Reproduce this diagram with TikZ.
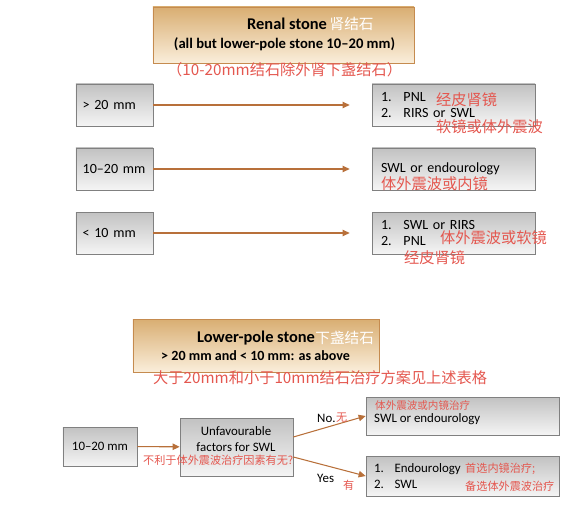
\documentclass[tikz,border=0pt]{standalone}
\usepackage{fontspec}
\setmainfont{Carlito}
\newfontfamily\cjk{Noto Sans CJK SC}
\usetikzlibrary{arrows.meta,positioning}
\definecolor{tanTop}{HTML}{D9AE72}
\definecolor{tanBot}{HTML}{FAEEDB}
\definecolor{tanEdge}{HTML}{C58B4F}
\definecolor{arrowBrown}{HTML}{B8703A}
\definecolor{noteRed}{HTML}{E4574F}
\newcommand{\itm}[2]{\makebox[1.6em][l]{#1}#2}

\begin{document}
\begin{tikzpicture}[x=0.03cm, y=-0.03cm,
  font=\fontsize{12}{14}\selectfont,
  box/.style={draw=black!50, line width=0.6pt, inner sep=0pt},
  gbox/.style={box, top color=black!24, bottom color=black!4},
  tbox/.style={draw=tanEdge, line width=0.6pt, top color=tanTop, bottom color=tanBot},
  sizebox/.style={gbox, minimum height=1.26cm, inner xsep=0.2cm, text width=1.91cm, align=left},
  rbox/.style={gbox, minimum height=1.26cm, inner xsep=0.27cm, text width=4.35cm, align=left},
  bbox/.style={gbox, font=\fontsize{11}{13}\selectfont, inner xsep=0.24cm, text width=5.31cm, align=left},
  ttl/.style={font=\bfseries\fontsize{14}{16}\selectfont, anchor=west, inner sep=0pt},
  sub/.style={font=\bfseries\fontsize{12.5}{14}\selectfont, inner sep=0pt},
  lbl/.style={font=\fontsize{11}{13}\selectfont, anchor=west, inner sep=0pt},
  note/.style={text=noteRed, font=\cjk\fontsize{13}{15}\selectfont, inner sep=0pt, anchor=west},
  snote/.style={note, font=\cjk\fontsize{9.5}{11}\selectfont},
  wnote/.style={note, text=white, font=\cjk\fontsize{12.5}{14}\selectfont},
  arr/.style={draw=arrowBrown, line width=0.9pt, -{Triangle[length=6pt,width=5.5pt]}},
]
\useasboundingbox (0,0) rectangle (570,512);
% renal stone, upper table
\node[tbox, minimum width=7.83cm, minimum height=1.68cm] (renal) at (283.5,35) {};
\node[ttl] (renalttl) at (247,24) {Renal stone};
\node[wnote] (renalcn) at ([xshift=2pt]renalttl.east) {肾结石};
\node[sub] (renalsub) at (284.5,44) {(all but lower-pole stone 10–20 mm)};
\node[note] (renalnote) at (167,70) {（10-20mm结石除外肾下盏结石）};

\node[sizebox] (gt20) at (114.5,105) {> 20 mm};
\node[sizebox] (mid) at (114.5,169) {10–20 mm};
\node[sizebox] (lt10) at (114.5,233) {< 10 mm};

\node[rbox, font=\fontsize{12}{13.6}\selectfont] (gt20tx) at (453.5,105) {\itm{1.}{PNL}\\\itm{2.}{RIRS or SWL}};
\node[rbox] (midtx) at (453.5,169) {SWL or endourology};
\node[rbox] (lt10tx) at (453.5,233) {\itm{1.}{SWL or RIRS}\\\itm{2.}{PNL}};

\draw[arr, shorten >=0.66cm] (gt20) -- (gt20tx);
\draw[arr, shorten >=0.66cm] (mid) -- (midtx);
\draw[arr, shorten >=0.66cm] (lt10) -- (lt10tx);

\node[note] (gt20n1) at (436,100) {经皮肾镜};
\node[note] (gt20n2) at (436,127) {软镜或体外震波};
\node[note] (midn) at (381,184) {体外震波或内镜};
\node[note] (lt10n1) at (440,238) {体外震波或软镜};
\node[note] (lt10n2) at (404,258) {经皮肾镜};

% lower-pole stone
\node[tbox, minimum width=7.38cm, minimum height=1.59cm] (lower) at (256,345.5) {};
\node[ttl] (lowerttl) at (197,338) {Lower-pole stone};
\node[wnote] (lowercn) at (lowerttl.east) {下盏结石};
\node[sub, font=\bfseries\fontsize{12}{14}\selectfont, anchor=west] (lowersub) at (161,356) {> 20 mm and < 10 mm: as above};
\node[note] (lowernote) at (153,378) {大于20mm和小于10mm结石治疗方案见上述表格};

\node[gbox, font=\fontsize{11}{13}\selectfont, minimum width=2.22cm, minimum height=1.17cm] (lpmid) at (100,446.5) {10–20 mm};
\node[gbox, minimum width=3.39cm, minimum height=1.74cm] (unfav) at (236.5,447) {};
\node[font=\fontsize{11}{13.6}\selectfont, align=center] (unfavtx) at (236,439) {Unfavourable\\factors for SWL};
\node[snote] (unfavn) at (143,460) {不利于体外震波治疗因素有无?};

\node[gbox, minimum width=5.79cm, minimum height=1.14cm] (noact) at (462.5,416) {};
\node[lbl] (noacttx) at (374,419) {SWL or endourology};
\node[bbox, minimum height=1.2cm] (yesact) at (462.5,476) {\itm{1.}{Endourology}\\\itm{2.}{SWL}};
\node[snote, font=\cjk\fontsize{9}{11}\selectfont] (noactn) at (375,405) {体外震波或内镜治疗};
\node[snote] (yesactn1) at (465,469) {首选内镜治疗;};
\node[snote] (yesactn2) at (465,486) {备选体外震波治疗};

\draw[arr] (lpmid) -- (unfav);
\draw[arr] ([yshift=0.3cm]unfav.east) -- (noact.west);
\draw[arr] ([yshift=-0.3cm]unfav.east) -- (yesact.west);
\node[lbl] (nolbl) at (317,418) {No.};
\node[snote] (nolbln) at (nolbl.east) {无};
\node[lbl] (yeslbl) at (317,478) {Yes};
\node[snote] (yeslbln) at (343,485) {有};
\end{tikzpicture}
\end{document}
